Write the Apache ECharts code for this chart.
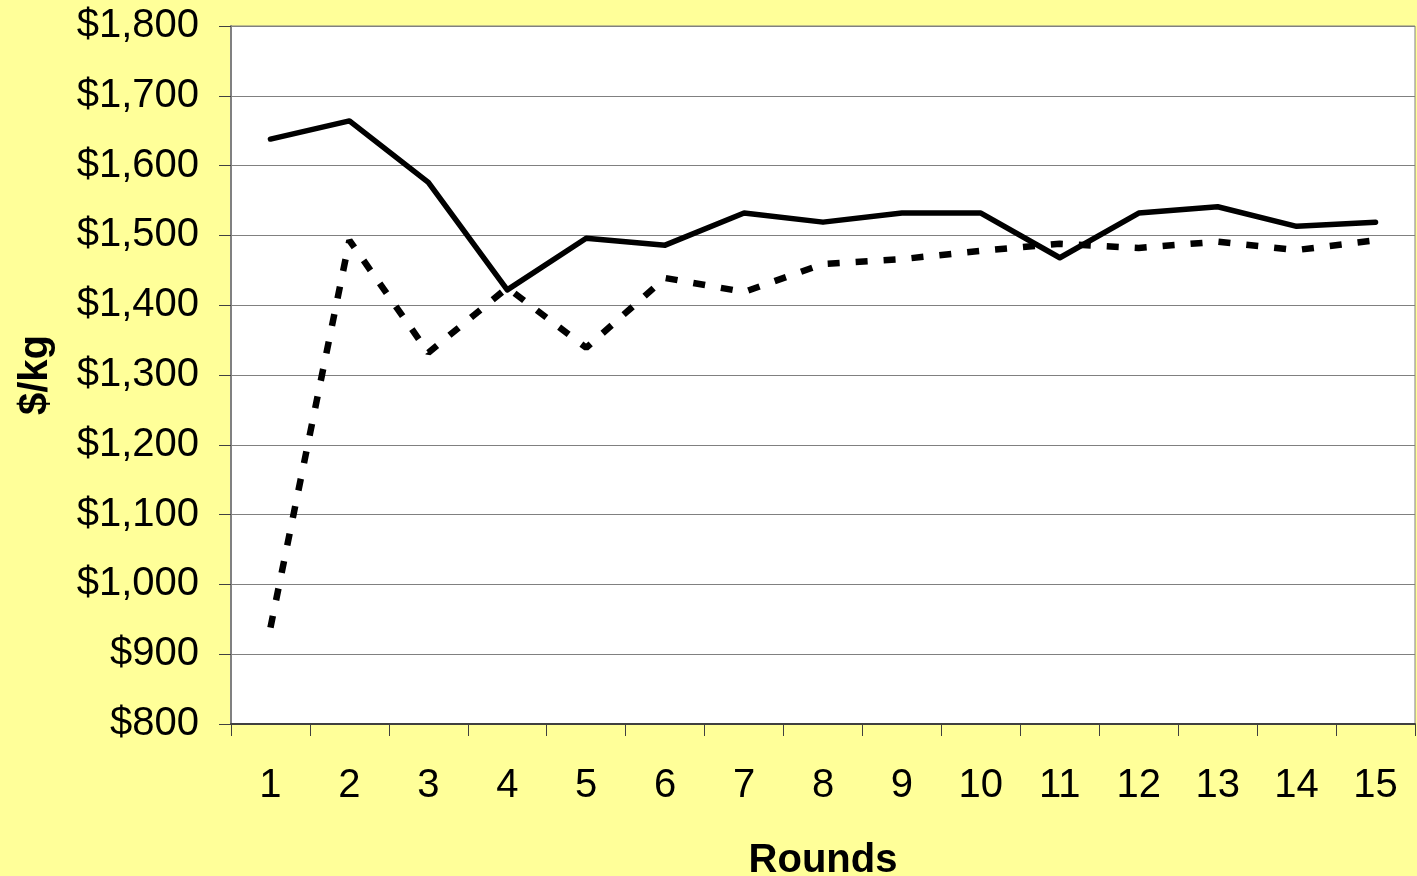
<!DOCTYPE html>
<html>
<head>
<meta charset="utf-8">
<script src="https://cdn.jsdelivr.net/npm/echarts@6/dist/echarts.min.js"></script>
<style>
  html, body {margin: 0; padding: 0; background: #FFFF99;}
  #chart {width: 1417px; height: 876px;}
</style>
</head>
<body>
<div id="chart"></div>
<script>
// rounds on the x axis
const rounds = ['1','2','3','4','5','6','7','8','9','10','11','12','13','14','15'];
// solid line
const solidPrice = [1638, 1664, 1576, 1422, 1496, 1486, 1532, 1519, 1532, 1532, 1468, 1532, 1541, 1513, 1519];
// dashed line
const dashedPrice = [938, 1493, 1332, 1425, 1339, 1439, 1419, 1459, 1466, 1478, 1488, 1482, 1491, 1479, 1493];

const font = 'Liberation Sans, Arial, sans-serif';

const myChart = echarts.init(document.getElementById('chart'));
const option = {
  backgroundColor: '#FFFF99',
  animation: false,
  grid: {
    left: 231, right: 2, top: 26, bottom: 152,
    outerBoundsMode: 'none',
    containLabel: false,
    show: true,
    backgroundColor: '#ffffff',
    borderColor: '#808080',
    borderWidth: 1
  },
  xAxis: {
    type: 'category',
    data: rounds,
    boundaryGap: true,
    name: 'Rounds',
    nameLocation: 'middle',
    nameGap: 117,
    nameTextStyle: {fontFamily: font, fontSize: 40, fontWeight: 'bold', color: '#000'},
    axisLine: {lineStyle: {color: '#404040', width: 2}},
    axisTick: {show: true, length: 12, alignWithLabel: false, lineStyle: {color: '#404040'}},
    axisLabel: {fontFamily: font, fontSize: 40, color: '#000', margin: 42, interval: 0},
    splitLine: {show: false}
  },
  yAxis: {
    type: 'value',
    min: 800,
    max: 1800,
    interval: 100,
    name: '$/kg',
    nameLocation: 'middle',
    nameGap: 175,
    nameTextStyle: {fontFamily: font, fontSize: 40, fontWeight: 'bold', color: '#000'},
    axisLine: {show: true, lineStyle: {color: '#808080', width: 2}},
    axisTick: {show: true, length: 12, lineStyle: {color: '#404040'}},
    axisLabel: {
      fontFamily: font, fontSize: 40, color: '#000', margin: 32,
      formatter: v => '$' + v.toLocaleString('en-US')
    },
    splitLine: {lineStyle: {color: '#808080', width: 1}}
  },
  series: [
    {
      type: 'line',
      data: solidPrice,
      symbol: 'none',
      lineStyle: {color: '#000', width: 5.5, cap: 'round', join: 'round'}
    },
    {
      type: 'line',
      data: dashedPrice,
      symbol: 'none',
      lineStyle: {color: '#000', width: 6.5, type: [12, 16], cap: 'butt'}
    }
  ]
};
myChart.setOption(option);
</script>
</body>
</html>
